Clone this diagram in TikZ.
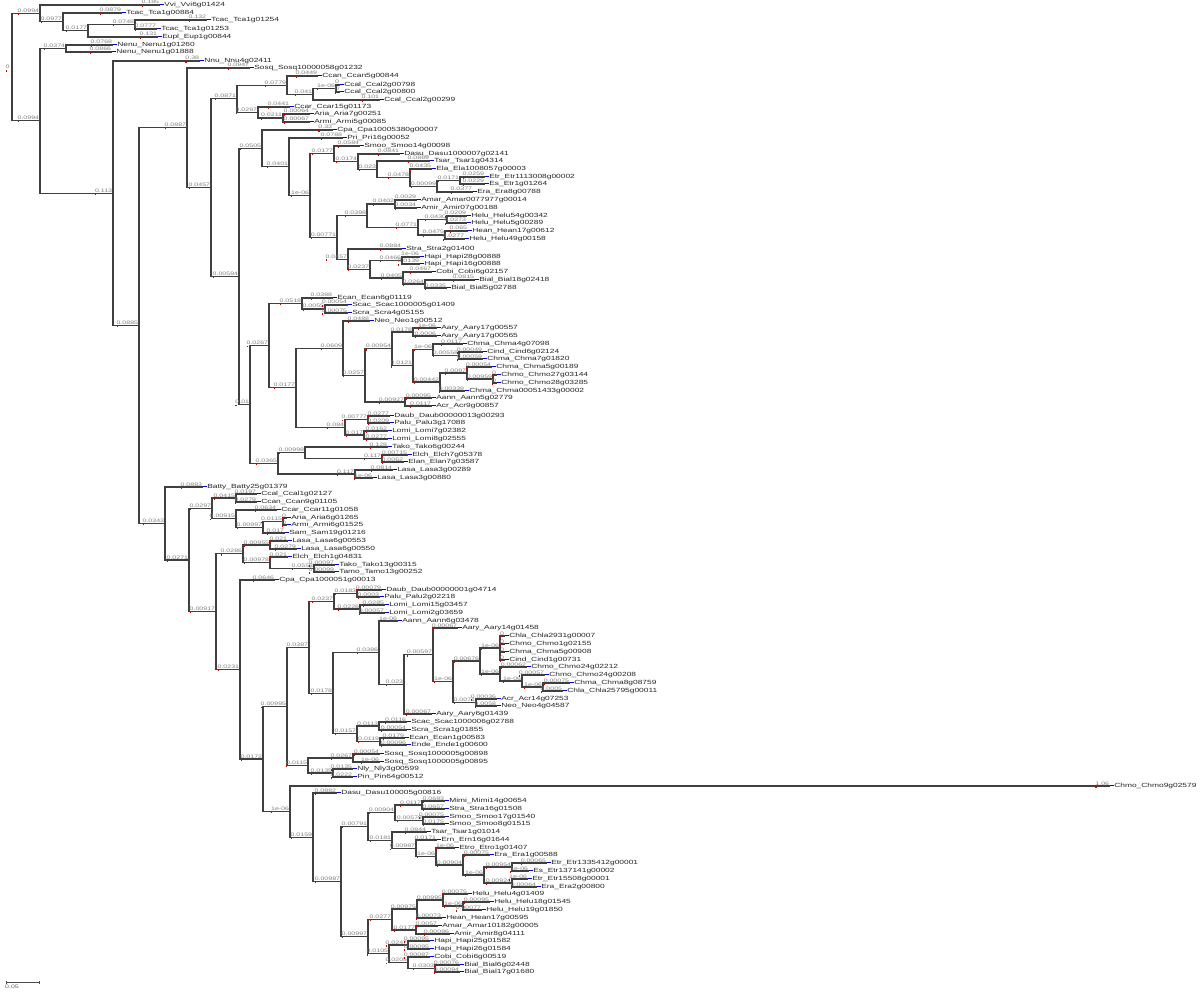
\documentclass[tikz,border=0pt]{standalone}
\usepackage{fontspec}
\newfontfamily\lfont[FakeStretch=1.4]{Liberation Sans}
\tikzset{
  br/.style={draw=black!75, line width=1.1pt},
  leaf/.style={anchor=west, inner sep=0pt, text height=4.3pt, text depth=1.3pt, font=\lfont\fontsize{6}{6}\selectfont, text=black!85},
  bl/.style={anchor=south east, inner sep=0.4pt, font=\lfont\fontsize{5}{5}\selectfont, text=black!50},
}
\newcommand\rdot{\smash{\rlap{\textcolor{red!85!black}{\rule[-2.6pt]{1.2pt}{1.2pt}}}}}
\newcommand\bmark{\textcolor{blue!85!black}{\rule[1.2pt]{3.5pt}{1.1pt}}\hspace{0.6pt}}
\newcommand\ed[3]{\draw[br] (#1) |- (#2) node[bl]{\rdot #3};}
\newcommand\lf[6]{\node[leaf] (#2) at (#3,#4) {\bmark #6};
  \draw[br] (#1) |- (#2.west) node[bl]{\rdot #5};}
\begin{document}
\begin{tikzpicture}[x=1pt,y=-1pt]
\fill[white] (0,0) rectangle (1200,992);
\useasboundingbox (0,0) rectangle (1200,992);
% internal nodes
\coordinate (root) at (12,67.2);
\coordinate (A) at (40,13.4);
\coordinate (B) at (63,21.9);
\coordinate (C) at (88,30.75);
\coordinate (D) at (135,24.5);
\coordinate (E) at (40,120.9);
\coordinate (NE) at (66,48.5);
\coordinate (F) at (113,193.3);
\coordinate (G) at (139,325.6);
\coordinate (H) at (187,127.8);
\coordinate (J) at (211,187.6);
\coordinate (L) at (237,98.8);
\coordinate (M) at (287,85.1);
\coordinate (P) at (313,94.25);
\coordinate (O) at (336,88.5);
\coordinate (N) at (258,112.5);
\coordinate (Q) at (283,118);
\coordinate (K) at (239,276.4);
\coordinate (R) at (262,148.4);
\coordinate (S) at (289,166.8);
\coordinate (T) at (310,195.6);
\coordinate (U) at (334,153.8);
\coordinate (V) at (358,161.7);
\coordinate (W) at (377,169.3);
\coordinate (X) at (410,177.6);
\coordinate (Y) at (437,186.25);
\coordinate (Z) at (460,180.5);
\coordinate (AA) at (337,237.4);
\coordinate (AB) at (367,215.6);
\coordinate (AC) at (395,204);
\coordinate (AD) at (418,227.25);
\coordinate (AE) at (447,219.5);
\coordinate (AF) at (445,235);
\coordinate (AG) at (348,259.1);
\coordinate (AH) at (370,269.25);
\coordinate (AI) at (402,260.5);
\coordinate (AJ) at (403,278);
\coordinate (AK) at (425,284);
\coordinate (AL) at (250,404.5);
\coordinate (AM) at (269,345.6);
\coordinate (AN) at (302,303.5);
\coordinate (AO) at (325,309);
\coordinate (AP) at (296,387.7);
\coordinate (AQ) at (343,348.2);
\coordinate (AR) at (365,375.5);
\coordinate (AS) at (392,348.9);
\coordinate (AU) at (413,332);
\coordinate (AV) at (413,365.9);
\coordinate (AW) at (433,349.75);
\coordinate (AX) at (459,355.5);
\coordinate (AY) at (440,382);
\coordinate (AZ) at (467,373);
\coordinate (BA) at (493,379);
\coordinate (AT) at (405,402);
\coordinate (BB) at (345,427.25);
\coordinate (BC) at (368,419.5);
\coordinate (BD) at (364,435);
\coordinate (BE) at (278,463.4);
\coordinate (BF) at (305,452.75);
\coordinate (BG) at (382,458.5);
\coordinate (BH) at (355,474);
\coordinate (I) at (165,523.5);
\coordinate (BI) at (189,560);
\coordinate (BJ) at (212,508.3);
\coordinate (BK) at (236,498);
\coordinate (BL) at (236,518.6);
\coordinate (BM) at (263,527.25);
\coordinate (BN) at (283,521.5);
\coordinate (BO) at (216,611.7);
\coordinate (BP) at (243,553.9);
\coordinate (BQ) at (270,545);
\coordinate (BR) at (270,562.75);
\coordinate (BS) at (314,568.5);
\coordinate (BT) at (240,669.5);
\coordinate (BU) at (263,759);
\coordinate (BV) at (287,706.4);
\coordinate (BW) at (309,647.2);
\coordinate (BX) at (334,601.25);
\coordinate (BY) at (357,593.5);
\coordinate (BZ) at (360,609);
\coordinate (CA) at (333,693.2);
\coordinate (CB) at (379,652.7);
\coordinate (CC) at (404,684.4);
\coordinate (CD) at (433,654.9);
\coordinate (CE) at (453,681.75);
\coordinate (CF) at (480,661);
\coordinate (CG) at (500,648);
\coordinate (CH) at (500,674);
\coordinate (CI) at (522,681);
\coordinate (CJ) at (543,687);
\coordinate (CK) at (476,702.5);
\coordinate (CL) at (357,733.75);
\coordinate (CM) at (379,726);
\coordinate (CN) at (380,741.5);
\coordinate (CO) at (308,765.5);
\coordinate (CP) at (353,758);
\coordinate (CQ) at (333,773);
\coordinate (CR) at (290,811.6);
\coordinate (CS) at (313,837.25);
\coordinate (CT) at (341,881.5);
\coordinate (CU) at (368,826.4);
\coordinate (CV) at (395,812.75);
\coordinate (CW) at (422,805);
\coordinate (CX) at (423,820.5);
\coordinate (CY) at (392,840.1);
\coordinate (CZ) at (416,848.25);
\coordinate (DA) at (436,856.5);
\coordinate (DB) at (463,865);
\coordinate (DC) at (484,875);
\coordinate (DD) at (512,867);
\coordinate (DE) at (512,883);
\coordinate (DF) at (368,936.7);
\coordinate (DG) at (392,919.5);
\coordinate (DH) at (417,909);
\coordinate (DI) at (443,900);
\coordinate (DJ) at (463,906);
\coordinate (DK) at (416,930);
\coordinate (DL) at (389,953.9);
\coordinate (DM) at (408,945);
\coordinate (DN) at (408,962.75);
\coordinate (DO) at (435,968.5);
\node[bl,anchor=east] (r0) at (10,67.2) {\rdot 0};
% internal edges
\ed{root}{A}{0.0994}
\ed{A}{B}{0.0977}
\ed{B}{C}{0.0177}
\ed{C}{D}{0.0748}
\ed{root}{E}{0.0994}
\ed{E}{NE}{0.0374}
\ed{E}{F}{0.113}
\ed{F}{G}{0.0885}
\ed{G}{H}{0.0887}
\ed{H}{J}{0.0457}
\ed{J}{L}{0.0871}
\ed{L}{M}{0.0779}
\ed{M}{P}{0.041}
\ed{P}{O}{1e-06}
\ed{L}{N}{0.0297}
\ed{N}{Q}{0.0211}
\ed{J}{K}{0.00594}
\ed{K}{R}{0.0505}
\ed{R}{S}{0.0401}
\ed{S}{T}{1e-06}
\ed{T}{U}{0.0177}
\ed{U}{V}{0.0174}
\ed{V}{W}{0.023}
\ed{W}{X}{0.0478}
\ed{X}{Y}{0.00099}
\ed{Y}{Z}{0.0171}
\ed{T}{AA}{0.00771}
\ed{AA}{AB}{0.0398}
\ed{AB}{AC}{0.0402}
\ed{AB}{AD}{0.0771}
\ed{AD}{AE}{0.0430}
\ed{AD}{AF}{0.0475}
\ed{AA}{AG}{0.0457}
\ed{AG}{AH}{0.0237}
\ed{AH}{AI}{0.0466}
\ed{AH}{AJ}{0.0405}
\ed{AJ}{AK}{0.0264}
\ed{K}{AL}{0.01}
\ed{AL}{AM}{0.0267}
\ed{AM}{AN}{0.0518}
\ed{AN}{AO}{0.0055}
\ed{AM}{AP}{0.0177}
\ed{AP}{AQ}{0.0609}
\ed{AQ}{AR}{0.0257}
\ed{AR}{AS}{0.00954}
\ed{AS}{AU}{0.0178}
\ed{AS}{AV}{0.0121}
\ed{AV}{AW}{1e-06}
\ed{AW}{AX}{0.00558}
\ed{AV}{AY}{0.00442}
\ed{AY}{AZ}{0.0097}
\ed{AZ}{BA}{0.00959}
\ed{AR}{AT}{0.00927}
\ed{AP}{BB}{0.084}
\ed{BB}{BC}{0.00777}
\ed{BB}{BD}{0.017}
\ed{AL}{BE}{0.0365}
\ed{BE}{BF}{0.00998}
\ed{BF}{BG}{0.117}
\ed{BE}{BH}{0.117}
\ed{G}{I}{0.0343}
\ed{I}{BI}{0.0271}
\ed{BI}{BJ}{0.0297}
\ed{BJ}{BK}{0.0415}
\ed{BJ}{BL}{0.00915}
\ed{BL}{BM}{0.00997}
\ed{BM}{BN}{0.0115}
\ed{BI}{BO}{0.00917}
\ed{BO}{BP}{0.0286}
\ed{BP}{BQ}{0.00955}
\ed{BP}{BR}{0.00978}
\ed{BR}{BS}{0.0558}
\ed{BO}{BT}{0.0231}
\ed{BT}{BU}{0.0172}
\ed{BU}{BV}{0.00995}
\ed{BV}{BW}{0.0387}
\ed{BW}{BX}{0.0237}
\ed{BX}{BY}{0.0183}
\ed{BX}{BZ}{0.0226}
\ed{BW}{CA}{0.0178}
\ed{CA}{CB}{0.0386}
\ed{CB}{CC}{0.023}
\ed{CC}{CD}{0.00597}
\ed{CD}{CE}{1e-06}
\ed{CE}{CF}{0.00676}
\ed{CF}{CG}{1e-06}
\ed{CF}{CH}{1e-06}
\ed{CH}{CI}{1e-06}
\ed{CI}{CJ}{1e-06}
\ed{CE}{CK}{0.0071}
\ed{CA}{CL}{0.0157}
\ed{CL}{CM}{0.0113}
\ed{CL}{CN}{0.0119}
\ed{BV}{CO}{0.0115}
\ed{CO}{CP}{0.0267}
\ed{CO}{CQ}{0.0135}
\ed{BU}{CR}{1e-06}
\ed{CR}{CS}{0.0159}
\ed{CS}{CT}{0.00987}
\ed{CT}{CU}{0.00791}
\ed{CU}{CV}{0.00904}
\ed{CV}{CW}{0.0117}
\ed{CV}{CX}{0.00578}
\ed{CU}{CY}{0.0181}
\ed{CY}{CZ}{0.00987}
\ed{CZ}{DA}{1e-06}
\ed{DA}{DB}{0.00904}
\ed{DB}{DC}{1e-06}
\ed{DC}{DD}{0.00954}
\ed{DC}{DE}{0.00924}
\ed{CT}{DF}{0.00997}
\ed{DF}{DG}{0.0277}
\ed{DG}{DH}{0.00975}
\ed{DH}{DI}{0.00995}
\ed{DI}{DJ}{1e-06}
\ed{DG}{DK}{0.0177}
\ed{DF}{DL}{0.0105}
\ed{DL}{DM}{0.0247}
\ed{DL}{DN}{0.0205}
\ed{DN}{DO}{0.0303}
% leaves
\lf{A}{L1}{160}{5}{0.185}{Vvi\_Vvi6g01424}
\lf{B}{L2}{122}{13}{0.0879}{Tcac\_Tca1g00884}
\lf{D}{L3}{207}{20}{0.132}{Tcac\_Tca1g01254}
\lf{D}{L4}{157}{29}{0.0777}{Tcac\_Tca1g01253}
\lf{C}{L5}{158}{37}{0.131}{Eupl\_Eup1g00844}
\lf{NE}{L6}{113}{45}{0.0768}{Nenu\_Nenu1g01260}
\lf{NE}{L7}{112}{52}{0.0866}{Nenu\_Nenu1g01888}
\lf{F}{L8}{200}{61}{0.38}{Nnu\_Nnu4g02411}
\lf{H}{L9}{250}{68}{0.0947}{Sosq\_Sosq10000058g01232}
\lf{M}{L10}{318}{76}{0.0449}{Ccan\_Ccan5g00844}
\lf{O}{L11}{340}{85}{0}{Ccal\_Ccal2g00798}
\lf{O}{L12}{340}{92}{0}{Ccal\_Ccal2g00800}
\lf{P}{L13}{380}{100}{0.101}{Ccal\_Ccal2g00299}
\lf{N}{L14}{290}{107}{0.0441}{Ccar\_Ccar15g01173}
\lf{Q}{L15}{310}{114}{0.00064}{Aria\_Aria7g00251}
\lf{Q}{L16}{310}{122}{0.00067}{Armi\_Armi5g00085}
\lf{R}{L17}{333}{130}{0.33}{Cpa\_Cpa10005380g00007}
\lf{S}{L18}{343}{138}{0.0788}{Pri\_Pri16g00052}
\lf{U}{L19}{360}{146}{0.0584}{Smoo\_Smoo14g00098}
\lf{V}{L20}{400}{154}{0.0841}{Dasu\_Dasu1000007g02141}
\lf{W}{L21}{430}{161}{0.0869}{Tsar\_Tsar1g04314}
\lf{X}{L22}{432}{169}{0.0435}{Ela\_Ela1008057g00003}
\lf{Z}{L23}{485}{177}{0.0259}{Etr\_Etr1113008g00002}
\lf{Z}{L24}{485}{184}{0.0229}{Es\_Etr1g01264}
\lf{Y}{L25}{473}{192}{0.0377}{Era\_Era8g00788}
\lf{AC}{L26}{417}{200}{0.0029}{Amar\_Amar0077977g00014}
\lf{AC}{L27}{417}{208}{0.0034}{Amir\_Amir07g00188}
\lf{AE}{L28}{467}{216}{0.0209}{Helu\_Helu54g00342}
\lf{AE}{L29}{467}{223}{0.0273}{Helu\_Helu5g00289}
\lf{AF}{L30}{468}{231}{0.065}{Hean\_Hean17g00612}
\lf{AF}{L31}{465}{239}{0.0277}{Helu\_Helu49g00158}
\lf{AG}{L32}{402}{249}{0.0884}{Stra\_Stra2g01400}
\lf{AI}{L33}{420}{257}{1e-06}{Hapi\_Hapi28g00888}
\lf{AI}{L34}{420}{264}{0.0139}{Hapi\_Hapi16g00888}
\lf{AJ}{L35}{432}{272}{0.0467}{Cobi\_Cobi6g02157}
\lf{AK}{L36}{475}{280}{0.0815}{Bial\_Bial18g02418}
\lf{AK}{L37}{447}{288}{0.0335}{Bial\_Bial5g02788}
\lf{AN}{L38}{333}{298}{0.0388}{Ecan\_Ecan6g01119}
\lf{AO}{L39}{348}{305}{0.00054}{Scac\_Scac1000005g01409}
\lf{AO}{L40}{348}{313}{0.00075}{Scra\_Scra4g05155}
\lf{AQ}{L41}{370}{321}{0.0488}{Neo\_Neo1g00512}
\lf{AU}{L42}{437}{328}{1e-06}{Aary\_Aary17g00557}
\lf{AU}{L43}{437}{336}{0.0006}{Aary\_Aary17g00565}
\lf{AW}{L44}{463}{344}{0.0117}{Chma\_Chma4g07098}
\lf{AX}{L45}{483}{352}{0.00049}{Cind\_Cind6g02124}
\lf{AX}{L46}{483}{359}{0.00059}{Chma\_Chma7g01820}
\lf{AZ}{L47}{492}{367}{0.00054}{Chma\_Chma5g00189}
\lf{BA}{L48}{497}{375}{0}{Chmo\_Chmo27g03144}
\lf{BA}{L49}{497}{383}{0}{Chmo\_Chmo28g03285}
\lf{AY}{L50}{465}{391}{0.00339}{Chma\_Chma00051433g00002}
\lf{AT}{L51}{432}{398}{0.00095}{Aann\_Aann5g02779}
\lf{AT}{L52}{432}{406}{0.0117}{Acr\_Acr9g00857}
\lf{BC}{L53}{390}{416}{0.0277}{Daub\_Daub00000013g00293}
\lf{BC}{L54}{390}{423}{0.0209}{Palu\_Palu3g17088}
\lf{BD}{L55}{388}{431}{0.0162}{Lomi\_Lomi7g02382}
\lf{BD}{L56}{388}{439}{0.0277}{Lomi\_Lomi8g02555}
\lf{BF}{L57}{388}{447}{0.128}{Tako\_Tako6g00244}
\lf{BG}{L58}{408}{455}{0.00715}{Elch\_Elch7g05378}
\lf{BG}{L59}{404}{462}{0.0062}{Elan\_Elan7g03587}
\lf{BH}{L60}{393}{470}{0.0814}{Lasa\_Lasa3g00289}
\lf{BH}{L61}{373}{478}{1e-06}{Lasa\_Lasa3g00880}
\lf{I}{L62}{203}{487}{0.0883}{Batty\_Batty25g01379}
\lf{BK}{L63}{257}{494}{0.0197}{Ccal\_Ccal1g02127}
\lf{BK}{L64}{257}{502}{0.0279}{Ccan\_Ccan9g01105}
\lf{BL}{L65}{277}{510}{0.0634}{Ccar\_Ccar11g01058}
\lf{BN}{L66}{287}{518}{0}{Aria\_Aria6g01265}
\lf{BN}{L67}{287}{525}{0}{Armi\_Armi6g01525}
\lf{BM}{L68}{285}{533}{0.017}{Sam\_Sam19g01216}
\lf{BQ}{L69}{288}{541}{0.021}{Lasa\_Lasa6g00553}
\lf{BQ}{L70}{297}{549}{0.0279}{Lasa\_Lasa6g00550}
\lf{BR}{L71}{288}{557}{0.021}{Elch\_Elch1g04831}
\lf{BS}{L72}{335}{565}{0.00097}{Tako\_Tako13g00315}
\lf{BS}{L73}{335}{572}{0.00099}{Tamo\_Tamo13g00252}
\lf{BT}{L74}{275}{580}{0.0646}{Cpa\_Cpa1000051g00013}
\lf{BY}{L75}{382}{590}{0.00079}{Daub\_Daub00000001g04714}
\lf{BY}{L76}{380}{597}{0.0003}{Palu\_Palu2g02218}
\lf{BZ}{L77}{385}{605}{0.0285}{Lomi\_Lomi15g03457}
\lf{BZ}{L78}{385}{613}{0.00057}{Lomi\_Lomi2g03659}
\lf{CB}{L79}{398}{621}{1e-06}{Aann\_Aann6g03478}
\lf{CD}{L80}{458}{628}{0.00067}{Aary\_Aary14g01458}
\lf{CG}{L81}{505}{636}{0}{Chla\_Chla2931g00007}
\lf{CG}{L82}{505}{644}{0}{Chmo\_Chmo1g02155}
\lf{CG}{L83}{505}{652}{0}{Chma\_Chma5g00908}
\lf{CG}{L84}{505}{660}{0}{Cind\_Cind1g00731}
\lf{CH}{L85}{527}{667}{0.00062}{Chmo\_Chmo24g02212}
\lf{CI}{L86}{545}{675}{0.00057}{Chmo\_Chmo24g00208}
\lf{CJ}{L87}{570}{683}{0.00075}{Chma\_Chma8g08759}
\lf{CJ}{L88}{563}{691}{0.0005}{Chla\_Chla25795g00011}
\lf{CK}{L89}{497}{699}{0.00036}{Acr\_Acr14g07253}
\lf{CK}{L90}{497}{706}{0.0058}{Neo\_Neo4g04587}
\lf{CC}{L91}{432}{714}{0.00067}{Aary\_Aary6g01439}
\lf{CM}{L92}{407}{722}{0.0116}{Scac\_Scac1000006g02788}
\lf{CM}{L93}{407}{730}{0.00054}{Scra\_Scra1g01855}
\lf{CN}{L94}{405}{738}{0.0179}{Ecan\_Ecan1g00583}
\lf{CN}{L95}{407}{745}{0.00096}{Ende\_Ende1g00600}
\lf{CP}{L96}{380}{754}{0.00054}{Sosq\_Sosq1000005g00898}
\lf{CP}{L97}{380}{762}{1e-06}{Sosq\_Sosq1000005g00895}
\lf{CQ}{L98}{353}{769}{0.0135}{Nly\_Nly3g00599}
\lf{CQ}{L99}{353}{777}{0.0222}{Pin\_Pin64g00512}
\lf{CR}{L100}{1110}{786}{1.06}{Chmo\_Chmo9g02579}
\lf{CS}{L101}{337}{793}{0.0882}{Dasu\_Dasu100005g00816}
\lf{CW}{L102}{445}{801}{0.0683}{Mimi\_Mimi14g00654}
\lf{CW}{L103}{445}{809}{0.0657}{Stra\_Stra16g01508}
\lf{CX}{L104}{445}{817}{0.00075}{Smoo\_Smoo17g01540}
\lf{CX}{L105}{445}{824}{0.0175}{Smoo\_Smoo8g01515}
\lf{CY}{L106}{427}{832}{0.0844}{Tsar\_Tsar1g01014}
\lf{CZ}{L107}{437}{840}{0.0171}{Ern\_Ern16g01644}
\lf{DA}{L108}{455}{848}{1e-06}{Etro\_Etro1g01407}
\lf{DB}{L109}{490}{855}{0.00075}{Era\_Era1g00588}
\lf{DD}{L110}{547}{863}{0.00065}{Etr\_Etr1335412g00001}
\lf{DD}{L111}{529}{871}{1e-06}{Es\_Etr137141g00002}
\lf{DE}{L112}{528}{879}{1e-06}{Etr\_Etr15508g00001}
\lf{DE}{L113}{537}{887}{0.00064}{Era\_Era2g00800}
\lf{DI}{L114}{468}{894}{0.00075}{Helu\_Helu4g01409}
\lf{DJ}{L115}{490}{902}{0.00095}{Helu\_Helu18g01545}
\lf{DJ}{L116}{482}{910}{0.00077}{Helu\_Helu19g01850}
\lf{DH}{L117}{442}{918}{0.00073}{Hean\_Hean17g00595}
\lf{DK}{L118}{438}{926}{0.0057}{Amar\_Amar10182g00005}
\lf{DK}{L119}{450}{934}{0.00086}{Amir\_Amir8g04111}
\lf{DM}{L120}{430}{941}{0.00095}{Hapi\_Hapi25g01582}
\lf{DM}{L121}{430}{949}{0.00095}{Hapi\_Hapi26g01584}
\lf{DN}{L122}{430}{957}{0.00087}{Cobi\_Cobi6g00519}
\lf{DO}{L123}{460}{965}{0.00076}{Bial\_Bial6g02448}
\lf{DO}{L124}{460}{972}{0.00094}{Bial\_Bial17g01680}
% scale bar
\coordinate (s1) at (6,982);
\coordinate (s2) at (39,982);
\draw[black!70, line width=0.8pt] (s1) -- (s2);
\draw[black!70, line width=0.8pt] ([yshift=1.5pt]s1) -- ([yshift=-1.5pt]s1);
\draw[black!70, line width=0.8pt] ([yshift=1.5pt]s2) -- ([yshift=-1.5pt]s2);
\node[anchor=north west, inner sep=0pt, font=\lfont\fontsize{5}{5}\selectfont, text=black!60] (sbl) at (5,984.5) {0.05};
\end{tikzpicture}
\end{document}
